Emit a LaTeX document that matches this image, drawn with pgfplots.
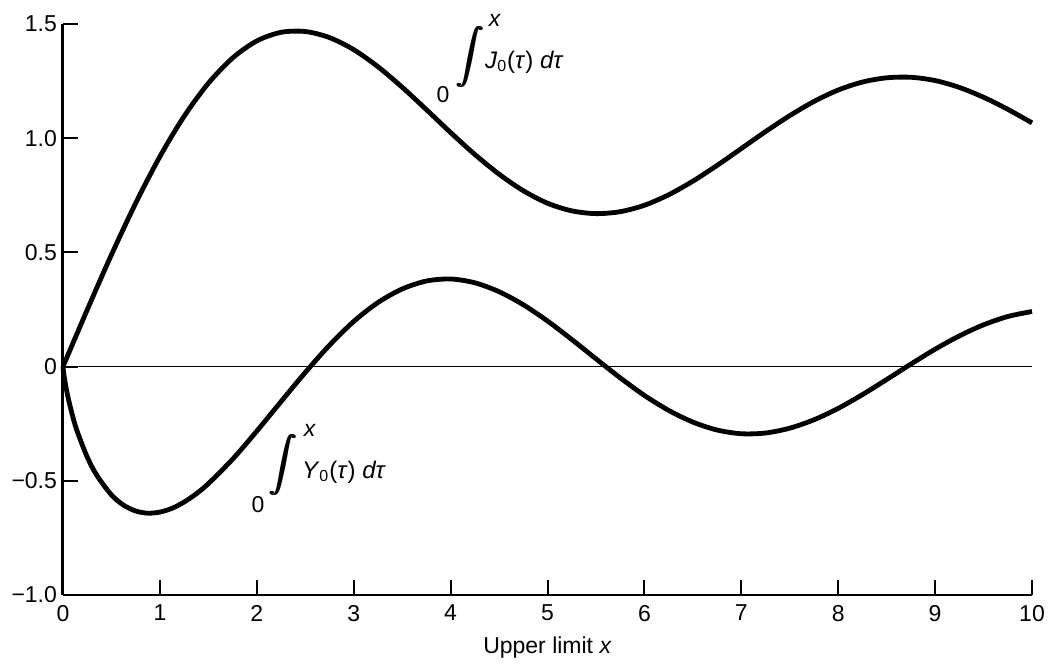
\documentclass[border=0pt]{standalone}
\usepackage{pgfplots}
\pgfplotsset{compat=1.18}
\usepackage{fontspec}
\setmainfont{Liberation Sans}
\usetikzlibrary{calc}

% integral of J0 from 0 to x
\pgfplotstableread{
x      y
0      0
0.25   0.2486
0.5    0.4896
0.75   0.7155
1      0.9197
1.25   1.0959
1.5    1.2404
1.75   1.3511
2      1.4258
2.25   1.4635
2.5    1.4671
2.75   1.4406
3      1.3876
3.25   1.3130
3.5    1.2233
3.75   1.1251
4      1.0247
4.25   0.9288
4.5    0.8425
4.75   0.7700
5      0.7153
5.25   0.6819
5.5    0.6698
5.75   0.6782
6      0.7062
6.25   0.7522
6.5    0.8118
6.75   0.8808
7      0.9547
7.25   1.0289
7.5    1.0988
7.75   1.1608
8      1.2109
8.25   1.2458
8.5    1.2644
8.75   1.2667
9      1.2524
9.25   1.2223
9.5    1.1792
9.75   1.1264
10     1.0671
}\intJ

% integral of Y0 from 0 to x
\pgfplotstableread{
x      y
0      0
0.005  -0.0204
0.02   -0.0640
0.05   -0.1309
0.1    -0.2175
0.15   -0.2877
0.25   -0.3959
0.35   -0.4769
0.5    -0.5617
0.625  -0.6066
0.75   -0.6323
0.875  -0.6418
1      -0.6371
1.125  -0.6205
1.25   -0.5932
1.375  -0.5568
1.5    -0.5125
1.75   -0.4055
2      -0.2824
2.25   -0.1533
2.5    -0.0257
2.75   0.0935
3      0.1976
3.25   0.2804
3.5    0.3398
3.75   0.3746
4      0.3836
4.25   0.3669
4.5    0.3280
4.75   0.2709
5      0.1996
5.25   0.1188
5.5    0.0342
5.75   -0.0492
6      -0.1262
6.25   -0.1917
6.5    -0.2429
6.75   -0.2777
7      -0.2940
7.25   -0.2908
7.5    -0.2696
7.75   -0.2329
8      -0.1829
8.25   -0.1227
8.5    -0.0567
8.75   0.0110
9      0.0761
9.25   0.1344
9.5    0.1829
9.75   0.2193
10     0.2412
}\intY

% a heavier integral sign for the curve labels
\newcommand\heavyint{%
  \rlap{$\displaystyle\int$}\kern0.45pt\rlap{$\displaystyle\int$}\kern0.45pt$\displaystyle\int$}

\begin{document}
\begin{tikzpicture}
\begin{axis}[
  scale only axis, width=484.5pt, height=285.5pt,
  xmin=0, xmax=10, ymin=-1, ymax=1.5,
  axis x line=bottom, axis y line=left,
  x axis line style={-, line width=1.1pt},
  y axis line style={-, line width=1.5pt},
  xtick={0,1,2,3,4,5,6,7,8,9,10},
  xticklabels={0,1,2,3,4,5,6,7,8,9,10},
  ytick={-1,-0.5,0,0.5,1,1.5},
  yticklabels={−1.0,−0.5,0,0.5,1.0,1.5},
  tick align=inside,
  major tick length=7.5pt,
  tick style={line width=1pt, black},
  font=\fontsize{11.5}{13}\selectfont,
  xticklabel style={yshift=-1.5pt},
  yticklabel style={xshift=0.5pt},
  xlabel={Upper limit \textit{x}},
  xlabel style={at={(axis description cs:0.5,0)}, anchor=center, yshift=-26.5pt},
  clip=false,
]
\coordinate (sw) at (rel axis cs:0,0);
\coordinate (ne) at (rel axis cs:1,1);

\addplot[line width=0.9pt, black] coordinates {(0,0) (10,0)};
\addplot[line width=2.4pt, black, smooth] table[x=x,y=y] {\intJ};
\addplot[line width=2.4pt, black, smooth] table[x=x,y=y] {\intY};

% labels of the two curves
\node at (axis cs:4.200,1.355) {\scalebox{1.37}{\heavyint}};
\node at (axis cs:3.922,1.189) {0};
\node[font=\fontsize{11.5}{14}\selectfont] at (axis cs:4.458,1.515) {\textit{x}};
\node[anchor=west, font=\fontsize{12}{14}\selectfont] at (axis cs:4.283,1.334)
  {\textit{J}\textsubscript{0}(\textit{τ}) \textit{dτ}};

\node at (axis cs:2.270,-0.431) {\scalebox{1.37}{\heavyint}};
\node at (axis cs:2.012,-0.606) {0};
\node[font=\fontsize{11.5}{14}\selectfont] at (axis cs:2.549,-0.280) {\textit{x}};
\node[anchor=west, font=\fontsize{12}{14}\selectfont] at (axis cs:2.394,-0.461)
  {\textit{Y}\textsubscript{0}(\textit{τ}) \textit{dτ}};
\end{axis}
\pgfresetboundingbox
\path ($(sw)+(-31.5pt,-36.5pt)$) rectangle ($(ne)+(8pt,12pt)$);
\end{tikzpicture}
\end{document}
